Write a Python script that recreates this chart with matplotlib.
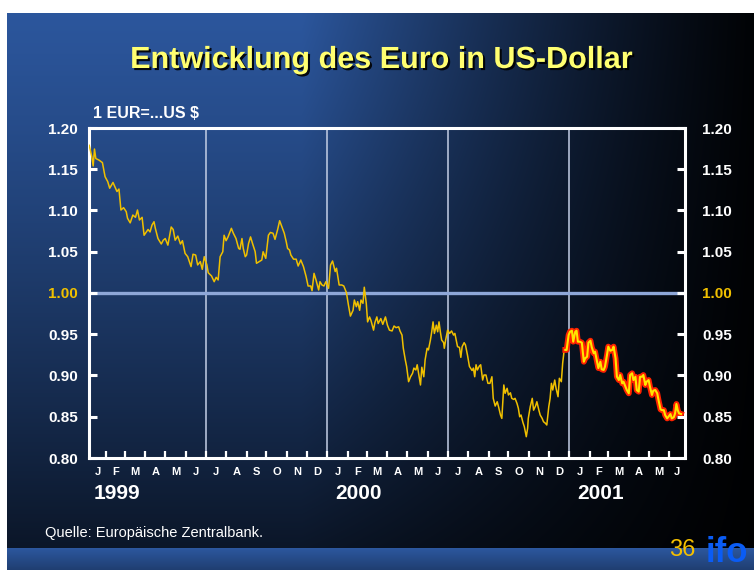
import numpy as np
import pandas as pd
import matplotlib
matplotlib.use("Agg")
import matplotlib.pyplot as plt
from matplotlib import patheffects as pe
from matplotlib.patches import Rectangle

plt.rcParams['font.family'] = ['Liberation Sans', 'DejaVu Sans']

# ---------------- data (days since 1999-01-01, EUR in USD) ----------------
days = [5, 9, 11, 13, 15, 20, 25, 29, 33, 36, 41, 47, 50, 53, 57, 61, 63, 67, 71, 75,
        78, 81, 85, 88, 94, 97, 100, 103, 105, 109, 114, 117, 120, 124, 129, 132, 135, 139, 143, 146,
        150, 154, 159, 162, 166, 169, 173, 176, 179, 183, 185, 190, 194, 197, 200, 203, 207, 209, 212, 215,
        220, 223, 227, 231, 233, 236, 238, 241, 243, 246, 249, 252, 256, 258, 262, 266, 268, 272, 276, 279,
        283, 286, 290, 293, 296, 300, 303, 305, 308, 310, 314, 318, 321, 325, 329, 333, 336, 340, 342, 345,
        348, 352, 354, 357, 360, 363, 367, 370, 373, 377, 379, 383, 387, 390, 394, 397, 400, 404, 406, 409,
        411, 414, 416, 419, 421, 424, 426, 429, 431, 435, 437, 440, 442, 446, 449, 453, 456, 459, 463, 466,
        469, 473, 475, 478, 480, 483, 485, 488, 491, 494, 496, 499, 501, 504, 506, 508, 511, 513, 516, 518,
        521, 523, 525, 527, 530, 532, 534, 536, 538, 541, 542, 544, 547, 550, 553, 556, 558, 562, 565, 567,
        569, 572, 574, 577, 580, 584, 586, 588, 590, 592, 595, 597, 600, 602, 605, 608, 611, 614, 616, 619,
        622, 624, 627, 629, 632, 634, 637, 639, 642, 644, 647, 649, 652, 654, 656, 658, 661, 663, 666, 668,
        669, 672, 675, 677, 680, 682, 685, 687, 690, 692, 695, 697, 700, 702, 704, 706, 709, 711, 714, 716,
        719, 721, 723, 725, 727, 730, 732, 735, 737, 740, 742, 744, 747, 750, 753, 755, 758, 760, 763, 765,
        768, 770, 773, 775, 778, 780, 783, 785, 788, 790, 793, 796, 798, 801, 803, 806, 808, 811, 813, 816,
        818, 821, 823, 826, 828, 831, 833, 836, 838, 841, 843, 846, 848, 851, 853, 856, 858, 861, 864, 866,
        869, 871, 874, 876, 879, 881, 884, 886, 889, 891, 893, 895, 897, 900]
rate = [1.179, 1.165, 1.154, 1.1745, 1.163, 1.161, 1.158, 1.141, 1.135, 1.127, 1.134, 1.123, 1.126, 1.1006, 1.1034, 1.0986, 1.0905, 1.085, 1.0945, 1.0917,
        1.1006, 1.0885, 1.0917, 1.070, 1.077, 1.074, 1.0824, 1.0864, 1.0784, 1.066, 1.0594, 1.064, 1.066, 1.058, 1.080, 1.077, 1.064, 1.069, 1.0594, 1.0634,
        1.048, 1.044, 1.032, 1.047, 1.046, 1.034, 1.038, 1.0287, 1.044, 1.034, 1.0246, 1.0206, 1.0137, 1.019, 1.0158, 1.044, 1.050, 1.070, 1.0634, 1.068,
        1.0784, 1.0724, 1.066, 1.054, 1.053, 1.066, 1.054, 1.044, 1.046, 1.060, 1.068, 1.060, 1.050, 1.036, 1.038, 1.040, 1.050, 1.042, 1.070, 1.0734,
        1.0724, 1.065, 1.077, 1.0876, 1.081, 1.0724, 1.062, 1.054, 1.052, 1.046, 1.041, 1.041, 1.0327, 1.040, 1.032, 1.020, 1.0085, 1.0085, 1.0028, 1.0238,
        1.0158, 1.0036, 1.0137, 1.0097, 1.0085, 1.0137, 1.0057, 1.034, 1.0388, 1.026, 1.030, 1.0097, 1.0097, 1.0085, 1.0004, 0.9855, 0.972, 0.979, 0.9915, 0.9834,
        0.9895, 0.979, 0.9915, 0.9875, 1.007, 0.9875, 0.965, 0.971, 0.967, 0.955, 0.964, 0.971, 0.963, 0.969, 0.962, 0.971, 0.961, 0.955, 0.954, 0.960,
        0.958, 0.959, 0.954, 0.949, 0.933, 0.919, 0.911, 0.8925, 0.8985, 0.9027, 0.909, 0.9067, 0.913, 0.8985, 0.8885, 0.910, 0.8985, 0.919, 0.933, 0.931,
        0.943, 0.953, 0.965, 0.951, 0.961, 0.953, 0.965, 0.953, 0.943, 0.9398, 0.933, 0.943, 0.955, 0.951, 0.954, 0.949, 0.951, 0.935, 0.934, 0.922,
        0.935, 0.9398, 0.937, 0.925, 0.911, 0.906, 0.909, 0.8985, 0.913, 0.9067, 0.9115, 0.913, 0.8945, 0.9006, 0.9006, 0.8905, 0.8905, 0.8985, 0.8723, 0.863,
        0.8682, 0.8622, 0.8521, 0.848, 0.8885, 0.8784, 0.8845, 0.8764, 0.879, 0.8723, 0.871, 0.8723, 0.866, 0.8602, 0.850, 0.8521, 0.8428, 0.838, 0.8258, 0.836,
        0.848, 0.8622, 0.8723, 0.858, 0.863, 0.8682, 0.858, 0.8521, 0.848, 0.844, 0.842, 0.840, 0.8622, 0.8723, 0.8905, 0.8824, 0.8945, 0.8845, 0.8743, 0.8966,
        0.8925, 0.9148, 0.9289, 0.931, 0.931, 0.949, 0.953, 0.9543, 0.941, 0.953, 0.9543, 0.941, 0.941, 0.9398, 0.9167, 0.9208, 0.9228, 0.9398, 0.9422, 0.9342,
        0.927, 0.9289, 0.9167, 0.909, 0.9167, 0.9075, 0.9067, 0.9107, 0.9248, 0.935, 0.930, 0.931, 0.935, 0.9208, 0.8985, 0.8945, 0.9006, 0.8905, 0.8925, 0.8864,
        0.8824, 0.8784, 0.9006, 0.9027, 0.8945, 0.8985, 0.8824, 0.8804, 0.8985, 0.8985, 0.9006, 0.8885, 0.8925, 0.8945, 0.8864, 0.8764, 0.8816, 0.8824, 0.8784, 0.870,
        0.859, 0.858, 0.858, 0.852, 0.848, 0.850, 0.8533, 0.848, 0.8493, 0.854, 0.8655, 0.858, 0.854, 0.8533]
highlight_from_day = 725
month_initials = ['J', 'F', 'M', 'A', 'M', 'J', 'J', 'A', 'S', 'O', 'N', 'D']
year_labels = ['1999', '2000', '2001']
y_ticks = [0.80, 0.85, 0.90, 0.95, 1.00, 1.05, 1.10, 1.15, 1.20]
title = 'Entwicklung des Euro in US-Dollar'
unit_label = '1 EUR=...US $'
source = 'Quelle: Europäische Zentralbank.'
page = '36'
logo = 'ifo'

# ---------------- figure ----------------
W, H = 754, 570
fig = plt.figure(figsize=(W / 100, H / 100), dpi=100)

# background gradient
bg = fig.add_axes([0, 0, 1, 1], zorder=-10)
xx = np.linspace(0, 1, W)[None, :]
yy = np.linspace(0, 1, H)[:, None]
hx = np.clip(1 - (xx - 0.40) / 0.65, 0.03, 1) ** 1.3
vy = 1 - 0.78 * yy ** 1.2
base = np.array([44, 87, 158]) / 255.0
img = base[None, None, :] * (hx * vy)[:, :, None]
bg.imshow(img, extent=[0, W, 0, H], aspect='auto', origin='upper')
# bottom blue bar
bar = np.linspace(1.0, 0.72, 22)[:, None, None] * base[None, None, :] * np.ones((1, W, 1))
bg.imshow(bar, extent=[0, W, 0, 22], aspect='auto', origin='upper')
bg.add_patch(Rectangle((0, H - 13), W, 13, color='white', lw=0))
bg.add_patch(Rectangle((0, 0), 7, H, color='white', lw=0))
bg.set_xlim(0, W)
bg.set_ylim(0, H)
bg.axis('off')

# main axes
ax = fig.add_axes([89 / W, 1 - 458 / H, (685 - 89) / W, (458 - 128) / H])
ax.set_facecolor('none')
x0, x1 = 4.7, 906
ax.set_xlim(x0, x1)
ax.set_ylim(0.80, 1.20)

start = pd.Timestamp('1999-01-01')
mstarts = pd.date_range('1999-01-01', '2001-07-01', freq='MS')
mdays = np.array([(d - start).days for d in mstarts])

# half-year grid lines and 1.00 line
for d in mstarts:
    if d.month in (1, 7) and x0 < (d - start).days < x1:
        ax.axvline((d - start).days, color='#c4cfe6', lw=1.1, zorder=1)
ax.axhline(1.00, color='#8ea7d8', lw=2.4, zorder=1)

days_a = np.array(days)
rate_a = np.array(rate)
ax.plot(days_a, rate_a, color='#f0c000', lw=1.1, zorder=3)
m = days_a >= highlight_from_day
ax.plot(days_a[m], rate_a[m], color='#ff2200', lw=4.2, zorder=4, solid_joinstyle='round')
ax.plot(days_a[m], rate_a[m], color='#ffe600', lw=1.5, zorder=5)

# spines
for s in ax.spines.values():
    s.set_color('white')
    s.set_linewidth(2.2)

# ticks
ax.set_xticks(mdays[1:-1])
ax.set_xticklabels([])
ax.tick_params(axis='x', direction='in', length=5, width=1.6, color='white', top=False)
ax.set_yticks(y_ticks)
ax.set_yticklabels([f'{v:.2f}' for v in y_ticks])
ax.tick_params(axis='y', direction='in', length=6, width=2.2, color='white', left=True, right=True,
               labelleft=True, labelright=False, pad=8, labelsize=11, labelcolor='white')
for t in ax.get_yticklabels():
    t.set_fontweight('bold')
    if t.get_text() == '1.00':
        t.set_color('#f0c000')

ax2 = ax.twinx()
ax2.set_ylim(0.80, 1.20)
ax2.set_yticks(y_ticks)
ax2.set_yticklabels([f'{v:.2f}' for v in y_ticks])
ax2.tick_params(axis='y', direction='in', length=6, width=2.2, color='white', pad=12.5,
                labelsize=11, labelcolor='white')
for t in ax2.get_yticklabels():
    t.set_fontweight('bold')
    if t.get_text() == '1.00':
        t.set_color('#f0c000')
for s in ax2.spines.values():
    s.set_visible(False)

# month and year labels
xt = ax.get_xaxis_transform()
for i in range(len(mstarts) - 1):
    a = max(mdays[i], x0)
    b = min(mdays[i + 1], x1)
    ax.text((a + b) / 2, -0.042, month_initials[mstarts[i].month - 1], transform=xt,
            ha='center', va='center', color='white', fontsize=8, fontweight='bold')
for k, yl in enumerate(year_labels):
    d = (pd.Timestamp(f'{yl}-01-01') - start).days + 47
    ax.text(d, -0.108, yl, transform=xt, ha='center', va='center', color='white',
            fontsize=15, fontweight='bold')

# texts
fig.text(381 / W, 1 - 60 / H, title, ha='center', va='center', color='#ffff70',
         fontsize=22, fontweight='bold',
         path_effects=[pe.SimplePatchShadow(offset=(1.5, -1.5), shadow_rgbFace='black', alpha=0.9),
                       pe.Normal()])
fig.text(93 / W, 1 - 113 / H, unit_label, ha='left', va='center', color='white',
         fontsize=11.5, fontweight='bold')
fig.text(45 / W, 1 - 533 / H, source, ha='left', va='center', color='white', fontsize=10.5)
fig.text(682 / W, 1 - 550 / H, page, ha='center', va='center', color='#f5c000', fontsize=17)
fig.text(706 / W, 1 - 562 / H, logo, ha='left', va='baseline', color='#0a5cf5',
         fontsize=25, fontweight='bold')

fig.savefig('out.png', dpi=100)
